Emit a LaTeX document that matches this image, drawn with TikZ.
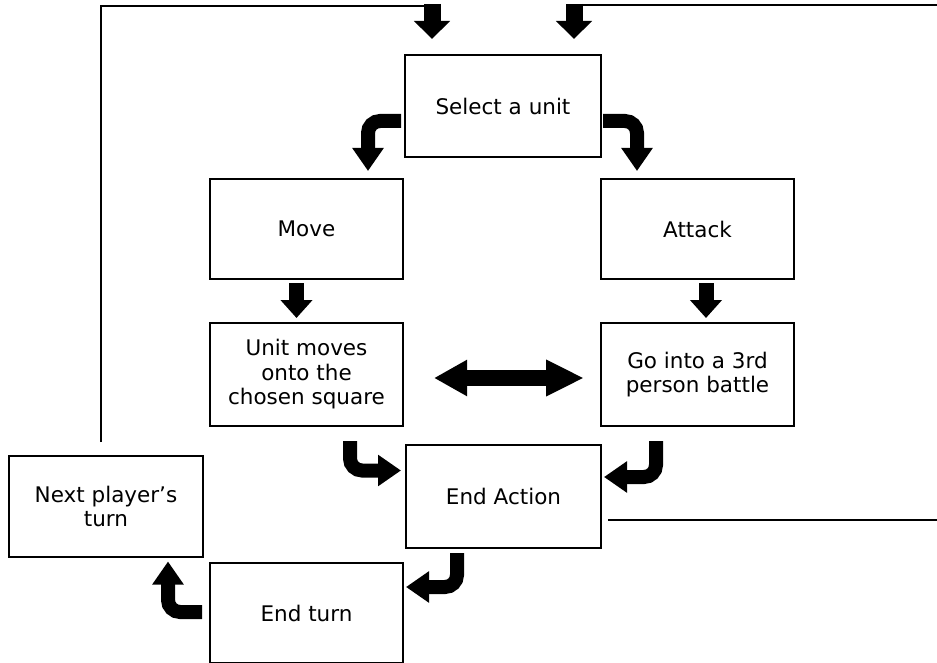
\documentclass[tikz,border=0pt]{standalone}
\usepackage{fontspec}
\setmainfont{DejaVu Sans}
\usetikzlibrary{arrows.meta}
\begin{document}
\begin{tikzpicture}[x=1pt,y=-1pt,
  box/.style={draw,line width=2pt,minimum width=193pt,minimum height=100pt,
    align=center,inner sep=0pt,font=\fontsize{21.5}{24.5}\selectfont},
  fat/.style={line width=14pt,rounded corners=12pt,
    -{Triangle[width=30pt,length=23pt]}},
  topfat/.style={line width=17pt,-{Triangle[width=35pt,length=18pt]}},
  dblfat/.style={line width=16pt,
    {Triangle[width=34pt,length=33pt]}-{Triangle[width=34pt,length=38pt]}},
  feed/.style={line width=1.8pt},
]
\useasboundingbox (0,0) rectangle (937,663);

% boxes
\node[box,minimum width=196pt,minimum height=102pt] (sel) at (503,106) {Select a unit};
\node[box] (move) at (306.5,229) {Move};
\node[box] (attack) at (697.5,229) {Attack};
\node[box,minimum height=103pt] (unit) at (306.5,374.5) {Unit moves\\onto the\\chosen square};
\node[box,minimum height=103pt] (go) at (697.5,374.5) {Go into a 3rd\\person battle};
\node[box,minimum width=195pt,minimum height=103pt] (endact) at (503.5,496.5) {End Action};
\node[box,minimum width=194pt,minimum height=101pt] (next) at (106,506.5) {Next player’s\\turn};
\node[box] (endturn) at (306.5,613) {End turn};

% loop-back lines
\coordinate (topL) at (432,6);
\coordinate (topR) at (574,5);
\coordinate (edgeT) at (937,5);
\coordinate (edgeM) at (937,520);
\draw[feed] ([xshift=-5pt,yshift=13pt]next.north) |- (topL);
\draw[feed] (topR) -- (edgeT);
\draw[feed] ([xshift=6pt,yshift=-23.5pt]endact.east) -- (edgeM);

% entry arrows into the selection step
\draw[topfat] ([yshift=2pt]topL) -- ([xshift=-71pt,yshift=15pt]sel.north);
\draw[topfat] ([yshift=1pt]topR) -- ([xshift=71pt,yshift=15pt]sel.north);

% flow arrows
\draw[fat] ([xshift=-3pt,yshift=-15pt]sel.west) -| ([xshift=61.5pt,yshift=7pt]move.north);
\draw[fat] ([xshift=1pt,yshift=-15pt]sel.east) -| ([xshift=-60.5pt,yshift=7pt]attack.north);
\draw[fat,line width=15pt,-{Triangle[width=31pt,length=18pt]}]
  ([xshift=-10pt,yshift=-3pt]move.south) -- ([xshift=-10pt,yshift=4pt]unit.north);
\draw[fat,line width=15pt,-{Triangle[width=31pt,length=18pt]}]
  ([xshift=8.5pt,yshift=-3pt]attack.south) -- ([xshift=8.5pt,yshift=4pt]go.north);
\draw[fat] ([xshift=43.5pt,yshift=-14pt]unit.south) |- ([xshift=-4pt,yshift=26pt]endact.west);
\draw[fat] ([xshift=-41.5pt,yshift=-14pt]go.south) |- ([xshift=2pt,yshift=19.5pt]endact.east);
\draw[fat] ([xshift=-46.5pt,yshift=-4pt]endact.south) |- ([xshift=2pt,yshift=26pt]endturn.east);
\draw[fat] ([xshift=-7pt,yshift=1pt]endturn.west) -| ([xshift=62pt,yshift=-3.5pt]next.south);

% two-way arrow between moving and battling
\draw[dblfat] ([xshift=30pt,yshift=-3.5pt]unit.east) -- ([xshift=-16pt,yshift=-3.5pt]go.west);
\end{tikzpicture}
\end{document}
